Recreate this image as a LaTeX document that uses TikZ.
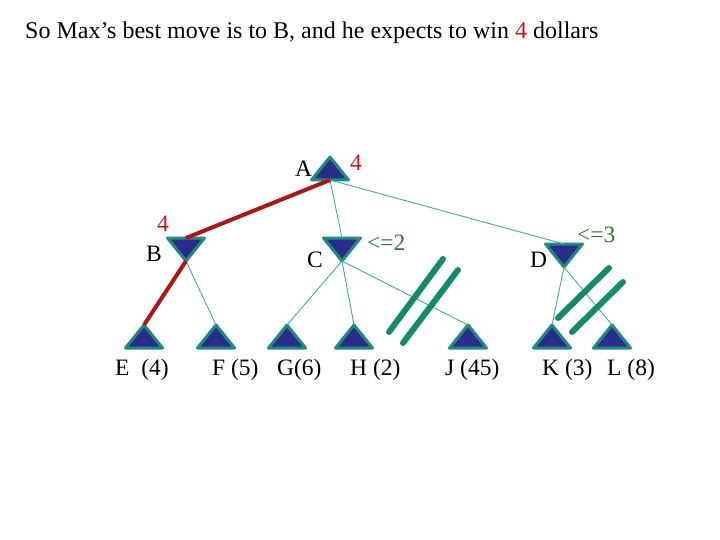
\documentclass[tikz,border=0pt]{standalone}
\usepackage{fontspec}
\setmainfont{Liberation Serif}
\usetikzlibrary{shapes.geometric}
\definecolor{trifill}{HTML}{2B2B8E}
\definecolor{triedge}{HTML}{1F8C7A}
\definecolor{thinc}{HTML}{3AAFA5}
\definecolor{redline}{HTML}{B01414}
\definecolor{slashc}{HTML}{138A6E}
\definecolor{lblue}{HTML}{2E6A8A}
\definecolor{lgreen}{HTML}{2E7D1E}
\definecolor{tred}{HTML}{C01A1A}
\begin{document}
\begin{tikzpicture}[x=1pt,y=-1pt,
  tri/.style={isosceles triangle, isosceles triangle stretches,
    minimum width=37pt, minimum height=23pt, inner sep=0pt, outer sep=0pt,
    fill=trifill, draw=triedge, line width=3pt, line join=round},
  maxn/.style={tri, rotate=90, anchor=apex},
  minn/.style={tri, rotate=-90, anchor=apex},
  lbl/.style={font=\fontsize{23.5}{28}\selectfont, inner sep=0pt, anchor=base west},
  thinedge/.style={draw=thinc, line width=0.9pt},
  redge/.style={draw=redline, line width=4pt},
  slash/.style={draw=slashc, line width=6pt, line cap=round}]
\useasboundingbox[fill=white] (0,0) rectangle (720,540);

% title
\node[lbl, font=\fontsize{24}{28}\selectfont] (title) at (25,39) {So Max’s best move is to B, and he expects to win \textcolor{tred}{4} dollars};

% triangles
\node[maxn] (A) at (330,157) {};
\node[minn] (B) at (186,261) {};
\node[minn] (C) at (342,261) {};
\node[minn] (D) at (564,267) {};
\node[maxn] (E) at (144,325) {};
\node[maxn] (F) at (216,325) {};
\node[maxn] (G) at (287,325) {};
\node[maxn] (H) at (354,325) {};
\node[maxn] (J) at (468,325) {};
\node[maxn] (K) at (552,325) {};
\node[maxn] (L) at (612,325) {};

% connectors
\draw[thinedge] (A.lower side) -- (C.lower side);
\draw[thinedge] (A.lower side) -- (D.lower side);
\draw[thinedge] (B.apex) -- (F.apex);
\draw[thinedge] (C.apex) -- (G.apex);
\draw[thinedge] (C.apex) -- (H.apex);
\draw[thinedge] (C.apex) -- (J.apex);
\draw[thinedge] (D.apex) -- (K.apex);
\draw[thinedge] (D.apex) -- (L.apex);
\draw[redge] (A.lower side) -- (B.lower side);
\draw[redge] (B.apex) -- (E.apex);

% pruning marks
\draw[slash] (389,332) -- (443,259);
\draw[slash] (403,343) -- (458,270);
\draw[slash] (558,318) -- (609,268);
\draw[slash] (572,332) -- (623,282);

% labels
\node[lbl] (lA) at (295,177) {A};
\node[lbl, text=tred] (vA) at (350,171) {4};
\node[lbl, text=tred] (vB) at (157,231) {4};
\node[lbl] (lB) at (146,261) {B};
\node[lbl] (lC) at (307,267) {C};
\node[lbl, text=lblue] (vC) at (367,250) {<=2};
\node[lbl] (lD) at (530,267) {D};
\node[lbl, text=lgreen] (vD) at (577,243) {<=3};
\node[lbl] (lE) at (115,375) {E \ (4)};
\node[lbl] (lF) at (212,375) {F (5)};
\node[lbl] (lG) at (277,375) {G(6)};
\node[lbl] (lH) at (350,375) {H (2)};
\node[lbl] (lJ) at (445,375) {J (45)};
\node[lbl] (lK) at (542,375) {K (3)};
\node[lbl] (lL) at (607,375) {L (8)};
\end{tikzpicture}
\end{document}
